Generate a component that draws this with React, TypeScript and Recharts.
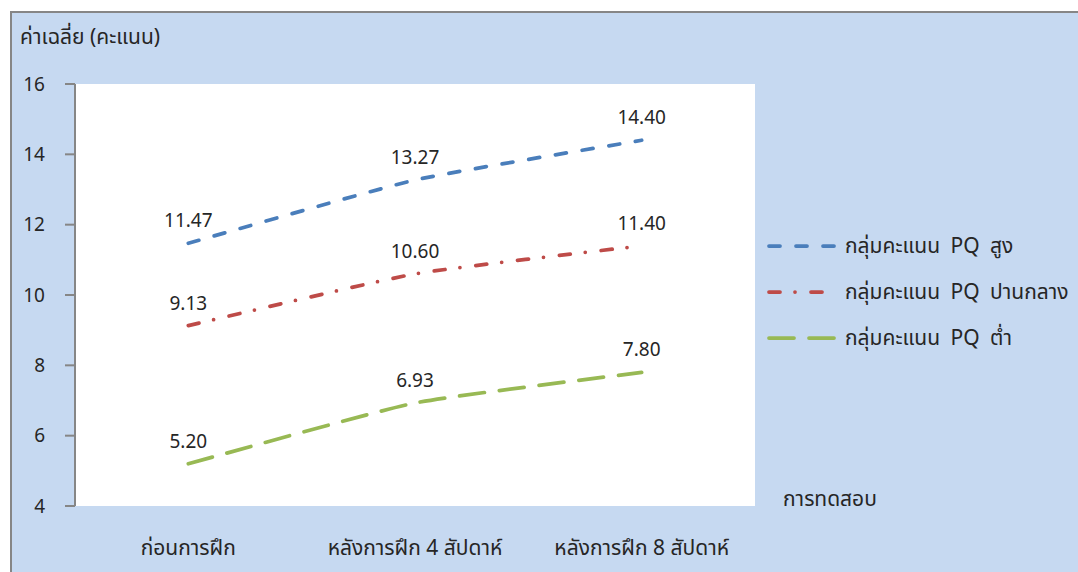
import React from 'react';
import { LineChart, Line, XAxis, YAxis, CartesianGrid, LabelList, Legend } from 'recharts';

// Test stages on the horizontal axis
const categories = ['ก่อนการฝึก', 'หลังการฝึก 4 สัปดาห์', 'หลังการฝึก 8 สัปดาห์'];
// Mean scores per PQ group
const highScores = [11.47, 13.27, 14.4];
const midScores = [9.13, 10.6, 11.4];
const lowScores = [5.2, 6.93, 7.8];
// Axis ticks
const yTicks = [4, 6, 8, 10, 12, 14, 16];
const bandEdges = [0, 1, 2, 3];
const seriesNames = ['กลุ่มคะแนน PQ สูง', 'กลุ่มคะแนน PQ ปานกลาง', 'กลุ่มคะแนน PQ ต่ำ'];
const yTitle = 'ค่าเฉลี่ย (คะแนน)';
const xTitle = 'การทดสอบ';

const data = categories.map((name, i) => ({
  name,
  pos: i + 0.5,
  high: highScores[i],
  mid: midScores[i],
  low: lowScores[i],
}));
const bandCenters = data.map((d) => d.pos);

const FONT = "Tahoma, 'Leelawadee UI', 'Noto Sans Thai', 'Noto Sans', 'DejaVu Sans', sans-serif";
const TEXT = '#262626';
const AXIS = '#868686';
const BG = '#C6D9F1';
const SW = 3.75;
const THAI_SIZE = 21;

// Gently rounded joins: cubic segments whose handles follow the neighbour chord,
// kept short so the segments stay nearly straight between points.
const softCurve = (k: number) => (context: any) => {
  let pts: number[][] = [];
  return {
    areaStart() {},
    areaEnd() {},
    lineStart() {
      pts = [];
    },
    point(x: number, y: number) {
      pts.push([+x, +y]);
    },
    lineEnd() {
      if (!pts.length) return;
      const n = pts.length;
      const tan = pts.map((p, i) => {
        const a = pts[Math.max(0, i - 1)];
        const b = pts[Math.min(n - 1, i + 1)];
        return [b[0] - a[0], b[1] - a[1]];
      });
      context.moveTo(pts[0][0], pts[0][1]);
      for (let i = 0; i < n - 1; i++) {
        const p = pts[i];
        const q = pts[i + 1];
        context.bezierCurveTo(
          p[0] + tan[i][0] * k,
          p[1] + tan[i][1] * k,
          q[0] - tan[i + 1][0] * k,
          q[1] - tan[i + 1][1] * k,
          q[0],
          q[1],
        );
      }
    },
  };
};
const smooth = softCurve(0.08);

const series = [
  { key: 'high', name: seriesNames[0], color: '#4A7EBB', dash: '11 16', legendLen: 70 },
  { key: 'mid', name: seriesNames[1], color: '#BE4B48', dash: '11 15 0 16', legendLen: 59 },
  { key: 'low', name: seriesNames[2], color: '#98B954', dash: '25 15', legendLen: 70 },
];

const fmt = (v: any) => Number(v).toFixed(2);

const LegendBox = () => (
  <div style={{ fontFamily: FONT }}>
    {series.map((s) => (
      <div key={s.key} style={{ display: 'flex', alignItems: 'center', height: 46 }}>
        <svg width={78} height={10} style={{ display: 'block' }}>
          <line
            x1={2}
            y1={5}
            x2={2 + s.legendLen}
            y2={5}
            stroke={s.color}
            strokeWidth={SW}
            strokeDasharray={s.dash}
            strokeLinecap="round"
          />
        </svg>
        <span style={{ fontSize: THAI_SIZE, color: TEXT, whiteSpace: 'pre', wordSpacing: 5 }}>{s.name}</span>
      </div>
    ))}
  </div>
);

export default function App() {
  return (
    <div
      style={{
        position: 'absolute',
        left: 10,
        top: 11,
        width: 1068,
        height: 561,
        boxSizing: 'border-box',
        borderLeft: `2px solid ${AXIS}`,
        borderTop: `2px solid ${AXIS}`,
        background: BG,
        fontFamily: FONT,
        overflow: 'hidden',
      }}
    >
      <div style={{ position: 'absolute', left: 8, top: 12, fontSize: THAI_SIZE, lineHeight: '26px', color: TEXT, whiteSpace: 'nowrap' }}>
        {yTitle}
      </div>
      <div style={{ position: 'absolute', left: 771, top: 474, fontSize: THAI_SIZE, lineHeight: '26px', color: TEXT, whiteSpace: 'nowrap' }}>
        {xTitle}
      </div>
      <LineChart width={1066} height={559} data={data} margin={{ top: 71, right: 323, bottom: 26, left: 13 }}>
        <CartesianGrid xAxisId="edges" yAxisId="score" fill="#FFFFFF" horizontal={false} vertical={false} />
        <XAxis
          xAxisId="edges"
          type="number"
          dataKey="pos"
          domain={[0, 3]}
          ticks={bandEdges}
          tick={false}
          tickSize={8}
          height={0}
          axisLine={{ stroke: AXIS, strokeWidth: 2 }}
          tickLine={{ stroke: AXIS, strokeWidth: 2 }}
        />
        <XAxis
          xAxisId="names"
          type="number"
          dataKey="pos"
          domain={[0, 3]}
          ticks={bandCenters}
          tickFormatter={(v: number) => categories[Math.floor(v)]}
          axisLine={false}
          tickLine={false}
          tickSize={0}
          tickMargin={34}
          height={40}
          interval={0}
          tick={{ fontSize: THAI_SIZE, fill: TEXT }}
        />
        <YAxis
          yAxisId="score"
          type="number"
          domain={[4, 16]}
          ticks={yTicks}
          interval={0}
          width={50}
          tickSize={10}
          tickMargin={20}
          axisLine={{ stroke: AXIS, strokeWidth: 2 }}
          tickLine={{ stroke: AXIS, strokeWidth: 2 }}
          tick={{ fontSize: 19, fill: TEXT }}
        />
        <Legend
          layout="horizontal"
          verticalAlign="middle"
          align="center"
          wrapperStyle={{ left: 755, top: 210, width: 320 }}
          content={() => <LegendBox />}
        />
        {series.map((s) => (
          <Line
            key={s.key}
            xAxisId="edges"
            yAxisId="score"
            type={smooth as any}
            dataKey={s.key}
            name={s.name}
            stroke={s.color}
            strokeWidth={SW}
            strokeDasharray={s.dash}
            strokeLinecap="round"
            dot={false}
            activeDot={false}
            isAnimationActive={false}
          >
            <LabelList dataKey={s.key} position="top" offset={16} formatter={fmt} style={{ fontSize: 19, fill: TEXT }} />
          </Line>
        ))}
      </LineChart>
    </div>
  );
}
